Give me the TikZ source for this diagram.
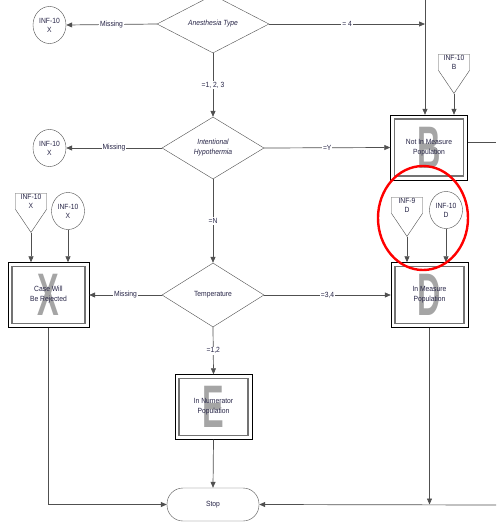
\documentclass[tikz,border=0pt]{standalone}
\usepackage{fontspec}
\setmainfont{Liberation Sans}[FakeStretch=0.9]
\usepackage{tikz}
\usetikzlibrary{shapes,arrows.meta,positioning,calc}
\usepackage{xcolor}
\definecolor{flowline}{RGB}{80,80,80}
\definecolor{flowtext}{RGB}{40,38,72}
\definecolor{bigletter}{RGB}{165,165,165}

\begin{document}
\begin{tikzpicture}[x=1pt, y=-1pt,
    decision/.style={diamond, draw=flowline, fill=white, inner sep=0pt, text=flowtext,
                     font=\fontsize{7.5}{10}\selectfont, align=center},
    outcome/.style={rectangle, draw=black, fill=white, minimum width=77pt, minimum height=65pt,
                    inner sep=0pt, text=flowtext, font=\fontsize{7.5}{10}\selectfont, align=center,
                    path picture={
                      \draw[black!55, line width=1.5pt]
                        ([shift={(4pt,4pt)}]path picture bounding box.south west) rectangle
                        ([shift={(-4pt,-4pt)}]path picture bounding box.north east);
                      \node[text=bigletter, font=\fontsize{60}{60}\selectfont\bfseries]
                        at (path picture bounding box.center) {\scalebox{0.6}[1]{#1}};
                    }},
    connector/.style={ellipse, draw=flowline, fill=white, minimum width=33pt, minimum height=37pt,
                      inner sep=0pt, text=flowtext, font=\fontsize{7.5}{9}\selectfont, align=center},
    offpage/.style={signal, signal to=south, signal pointer angle=68, draw=flowline, fill=white,
                    minimum width=31pt, inner sep=1pt, text=flowtext,
                    font=\fontsize{7.5}{9}\selectfont, align=center, anchor=north},
    terminal/.style={rectangle, rounded corners=16pt, draw=flowline, fill=white,
                     minimum width=92pt, minimum height=33pt, text=flowtext,
                     font=\fontsize{7.5}{9}\selectfont},
    lbl/.style={fill=white, inner sep=1pt, text=flowtext, font=\fontsize{7.5}{9}\selectfont},
    arr/.style={-{Triangle[length=6pt,width=5pt]}, flowline, line width=0.7pt},
    ln/.style={flowline, line width=0.7pt}
]
\useasboundingbox (0,0) rectangle (496,525);

% decisions
\node[decision, minimum width=112pt, minimum height=58pt] (anes) at (213,24)  {\itshape Anesthesia Type};
\node[decision, minimum width=102pt, minimum height=62pt] (hypo) at (213,148) {\itshape Intentional\\\itshape Hypothermia};
\node[decision, minimum width=102pt, minimum height=64pt] (temp) at (213,295) {Temperature};

% outcomes
\node[outcome=B] (notin)   at (429,147.5) {Not In Measure\\Population};
\node[outcome=X, minimum width=81pt] (reject) at (48.5,295) {Case Will\\Be Rejected};
\node[outcome=D] (inmeas)  at (429.5,295) {In Measure\\Population};
\node[outcome=E] (numer)   at (213.5,407) {In Numerator\\Population};
\node[terminal] (stop) at (213,504.5) {Stop};

% connectors
\node[connector] (infA) at (49.5,25)  {INF-10\\X};
\node[connector] (infB) at (49.5,148) {INF-10\\X};
\node[connector] (infC) at (68,211)   {INF-10\\X};
\node[connector] (infD) at (446,210)  {INF-10\\D};
\node[offpage] (pgX) at (31,193)  {INF-10\\X};
\node[offpage] (pgB) at (454,54)  {INF-10\\B};
\node[offpage] (pgD) at (407,197) {INF-9\\D};

\coordinate (top)  at (425,0);
\coordinate (join) at (425,24);
\coordinate (outB) at (496,142);
\coordinate (outR) at (496,505);

% flow
\draw[arr] (anes.west) -- node[lbl]{Missing} (infA.east);
\draw[arr] (anes.east) -- node[lbl]{= 4} (join);
\draw[arr] (top) -- (top |- notin.north);
\draw[arr] (pgB.south) -- (pgB.south |- notin.north);
\draw[ln]  (notin.east |- outB) -- (outB);

\draw[arr] (anes.south) -- node[lbl]{=1, 2, 3} (hypo.north);
\draw[arr] (hypo.west) -- node[lbl]{Missing} (infB.east);
\draw[arr] (hypo.east) -- node[lbl]{=Y} (notin.west);
\draw[arr] (hypo.south) -- node[lbl]{=N} (temp.north);

\draw[arr] (pgX.south) -- (pgX.south |- reject.north);
\draw[arr] (infC.south) -- (infC.south |- reject.north);
\draw[arr] (temp.west) -- node[lbl]{Missing} (reject.east);
\draw[arr] (temp.east) -- node[lbl]{=3,4} (inmeas.west);
\draw[arr] (pgD.south) -- (pgD.south |- inmeas.north);
\draw[arr] (infD.south) -- (infD.south |- inmeas.north);
\draw[arr] (temp.south) -- node[lbl]{=1,2} (numer.north);

\draw[arr] (numer.south) -- (stop.north);
\draw[arr] (reject.south) |- (stop.west);
\draw[arr] (outR) -- (stop.east);
\draw[arr] (inmeas.south) -- (inmeas.south |- stop.east);

% highlight
\node[ellipse, draw=red, line width=2.4pt, minimum width=90pt, minimum height=104pt] (ring) at (423,218) {};
\end{tikzpicture}
\end{document}
